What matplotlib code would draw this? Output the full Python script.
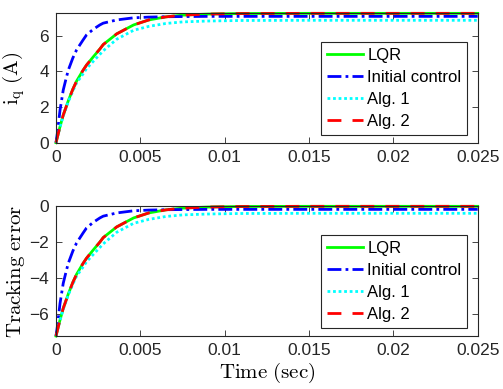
import matplotlib
matplotlib.use("Agg")
import matplotlib.pyplot as plt
import numpy as np

# time samples (s)
t = [0, 0.00008, 0.00024, 0.00043, 0.0006, 0.00073, 0.001, 0.00122, 0.0016,
     0.00181, 0.0022, 0.0026, 0.0028, 0.0036, 0.0046, 0.0055, 0.0065, 0.0075,
     0.009, 0.011, 0.015, 0.02, 0.025]

# i_q (A) for each controller
iq_lqr = [0, 0.3, 0.9, 1.55, 2.0, 2.35, 3.0, 3.45, 4.05, 4.35, 4.8, 5.25, 5.5,
          6.1, 6.6, 6.88, 7.05, 7.15, 7.21, 7.24, 7.25, 7.25, 7.25]
iq_init = [0, 0.52, 1.83, 2.95, 3.6, 4.07, 4.75, 5.2, 5.75, 6.04, 6.35, 6.6,
           6.7, 6.88, 7.0, 7.04, 7.06, 7.07, 7.08, 7.08, 7.08, 7.08, 7.08]
iq_alg1 = [0, 0.3, 0.88, 1.5, 1.95, 2.3, 2.9, 3.35, 3.85, 4.15, 4.55, 4.95,
           5.15, 5.8, 6.3, 6.52, 6.68, 6.77, 6.82, 6.85, 6.86, 6.86, 6.86]
iq_alg2 = list(iq_lqr)

i_ref = 7.25  # reference current

labels = ["LQR", "Initial control", "Alg. 1", "Alg. 2"]

plt.rcParams['mathtext.fontset'] = 'cm'
plt.rcParams['font.family'] = ['Liberation Sans', 'DejaVu Sans']

fig = plt.figure(figsize=(5.03, 3.89), dpi=100)
ax1 = fig.add_axes([0.1113, 0.6332, 0.8384, 0.3334])
ax2 = fig.add_axes([0.1113, 0.1362, 0.8384, 0.3334])

gray = (0.15, 0.15, 0.15)
styles = [dict(color=(0, 1, 0), ls='-'),
          dict(color=(0, 0, 1), ls=(0, (5, 1.5, 1, 1.5))),
          dict(color=(0, 1, 1), ls=(0, (1, 1))),
          dict(color=(1, 0, 0), ls=(0, (5, 4)))]

for ax, series in [(ax1, [iq_lqr, iq_init, iq_alg1, iq_alg2]),
                   (ax2, [np.array(s) - i_ref for s in [iq_lqr, iq_init, iq_alg1, iq_alg2]])]:
    for s, st, lab in zip(series, styles, labels):
        ax.plot(t, s, lw=2, label=lab, clip_on=False, **st)
    ax.set_xlim(0, 0.025)
    ax.set_xticks([0, 0.005, 0.01, 0.015, 0.02, 0.025])
    ax.set_xticklabels(["0", "0.005", "0.01", "0.015", "0.02", "0.025"])
    ax.tick_params(direction='in', top=True, right=True, labelsize=12.5,
                   colors=gray, length=4, width=0.6, pad=5)
    for sp in ax.spines.values():
        sp.set_color(gray)
        sp.set_linewidth(0.8)
    leg = ax.legend(loc='lower right', fontsize=12, frameon=True, fancybox=False,
                    edgecolor=gray, framealpha=1, borderaxespad=0,
                    handlelength=2.15, handletextpad=0.25, borderpad=0.35,
                    labelspacing=0.42)
    leg.get_frame().set_linewidth(0.8)

ax1.set_ylim(0, 7.27)
ax1.set_yticks([0, 2, 4, 6])
ax1.set_ylabel(r'$\mathrm{i_q\ (A)}$', fontsize=15)
ax1.yaxis.set_label_coords(-0.068, 0.5)
ax1.get_legend().set_bbox_to_anchor((0.975, 0.059))

ax2.set_ylim(-7.25, 0)
ax2.set_yticks([-6, -4, -2, 0])
ax2.set_ylabel(r'$\mathrm{Tracking\ error}$', fontsize=15)
ax2.yaxis.set_label_coords(-0.068, 0.5)
ax2.set_xlabel(r'$\mathrm{Time\ (sec)}$', fontsize=15, labelpad=2)
ax2.get_legend().set_bbox_to_anchor((0.975, 0.064))

fig.savefig("out.png", dpi=100)
